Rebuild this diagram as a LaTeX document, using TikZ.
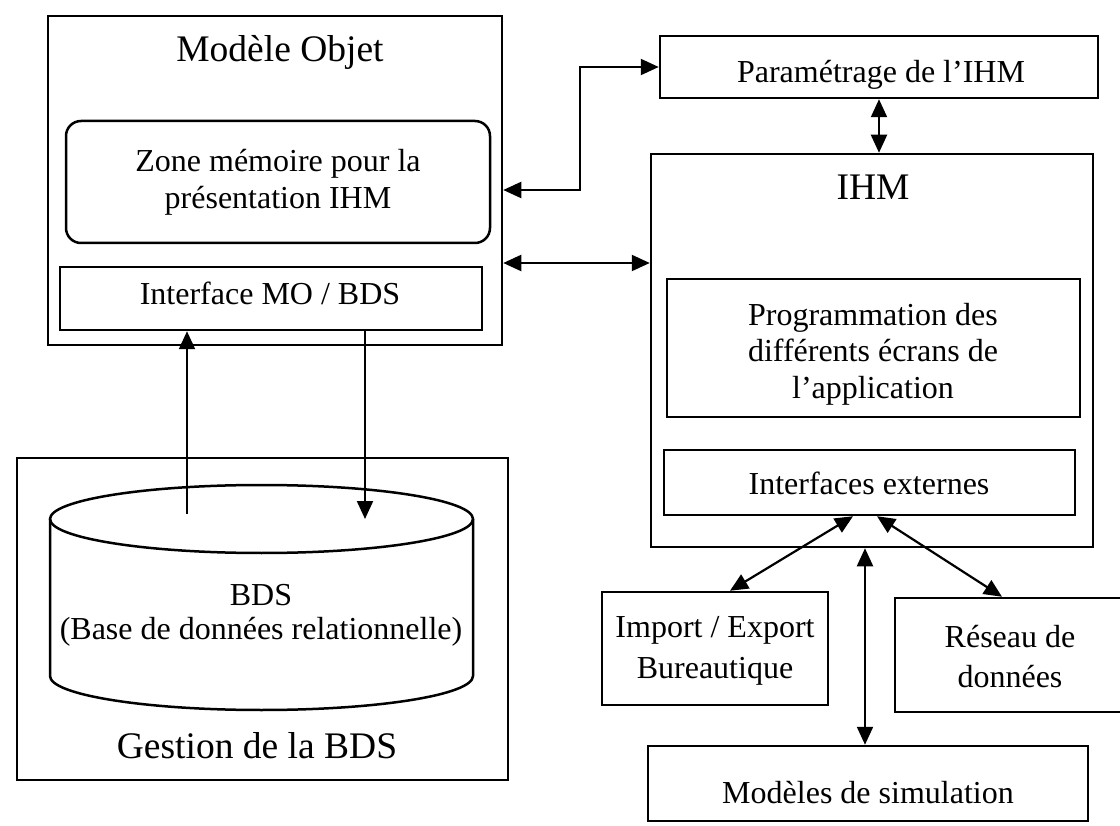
\documentclass[tikz,border=0pt]{standalone}
\usepackage{fontspec}
\setmainfont{Liberation Serif}
\usetikzlibrary{arrows.meta,calc}
\begin{document}
\begin{tikzpicture}[x=1pt,y=-1pt,
  box/.style={draw, line width=2.5pt, inner sep=0pt},
  lbl/.style={font=\fontsize{32}{37}\selectfont, align=center, inner sep=0pt},
  ttl/.style={font=\fontsize{37.5}{42}\selectfont, inner sep=0pt},
  arr/.style={line width=2.2pt, -{Triangle[length=18pt,width=16pt]}},
  darr/.style={line width=2.2pt, {Triangle[length=18pt,width=16pt]}-{Triangle[length=18pt,width=16pt]}},
]
\useasboundingbox (0,0) rectangle (1120,826);
\fill[white] (0,0) rectangle (1120,826);
\clip (0,0) rectangle (1120,826);

% Modele Objet
\node[box, minimum width=454pt, minimum height=329pt] (mo) at (275,180.5) {};
\node[ttl, anchor=base] (tmo) at (280,62) {Modèle Objet};
\node[box, rounded corners=15pt, minimum width=424pt, minimum height=122pt, lbl] (zone) at (278,182) {Zone mémoire pour la\\présentation IHM};
\node[box, minimum width=422pt, minimum height=63pt] (mobds) at (271,298.5) {};
\node[lbl, anchor=base] (tmobds) at (270,305) {Interface MO / BDS};

% Gestion de la BDS
\node[box, minimum width=491pt, minimum height=322pt] (gest) at (262.5,619) {};
\draw[line width=2.5pt] (50,519) -- (50,676) arc[start angle=180, end angle=0, x radius=211.5, y radius=34] -- (473,519);
\draw[line width=2.5pt] (261.5,519) ellipse [x radius=211.5, y radius=34];
\node[font=\fontsize{32}{34}\selectfont, align=center, inner sep=0pt] (bds) at (261,615.5) {BDS\\(Base de données relationnelle)};
\node[ttl, anchor=base] (tgest) at (257,758) {Gestion de la BDS};
\coordinate (cylA) at (187,514);
\coordinate (cylB) at (365,519);

% Parametrage
\node[box, minimum width=438pt, minimum height=62pt] (param) at (879,67) {};
\node[lbl, anchor=base] (tparam) at (881,83) {Paramétrage de l'IHM};

% IHM
\node[box, minimum width=442pt, minimum height=393pt] (ihm) at (872,350.5) {};
\node[ttl, anchor=base] (tihm) at (873,200) {IHM};
\node[box, minimum width=413pt, minimum height=138pt] (prog) at (873.5,348) {};
\node[font=\fontsize{32}{36.5}\selectfont, align=center, inner sep=0pt] (tprog) at (873,354) {Programmation des\\différents écrans de\\l'application};
\node[box, minimum width=411pt, minimum height=65pt] (ext) at (869.5,482.5) {};
\node[lbl, anchor=base] (text) at (869,494) {Interfaces externes};

% External boxes
\node[box, minimum width=226pt, minimum height=113pt] (imp) at (715,648.5) {};
\node[font=\fontsize{32}{41}\selectfont, align=center, inner sep=0pt] (timp) at (715,651) {Import / Export\\Bureautique};
\node[box, minimum width=230pt, minimum height=114pt] (res) at (1010,655) {};
\node[font=\fontsize{32}{40}\selectfont, align=center, inner sep=0pt] (tres) at (1010,657) {Réseau de\\données};
\node[box, minimum width=440pt, minimum height=75pt] (mods) at (868,783.5) {};
\node[lbl, anchor=base] (tmods) at (868,803) {Modèles de simulation};

% Connectors
\coordinate (yP) at (0,190);
\coordinate (yQ) at (0,263);
\coordinate (xT) at (580,0);
\coordinate (xV) at (865,0);
\draw[darr] (mo.east |- yP) -- (xT |- yP) -- (xT |- param.west) -- (param.west);
\draw[darr] (mo.east |- yQ) -- (ihm.west |- yQ);
\draw[darr] (param.south) -- (param.south |- ihm.north);
\draw[arr] (cylA) -- (cylA |- mobds.south);
\draw[arr] (cylB |- mobds.south) -- (cylB);
\draw[darr] ($(ext.south)+(-16.5,0)$) -- ($(imp.north)+(15,0)$);
\draw[darr] ($(ext.south)+(7.5,0)$) -- ($(res.north)+(-8,0)$);
\draw[darr] (xV |- ihm.south) -- (xV |- mods.north);
\end{tikzpicture}
\end{document}
